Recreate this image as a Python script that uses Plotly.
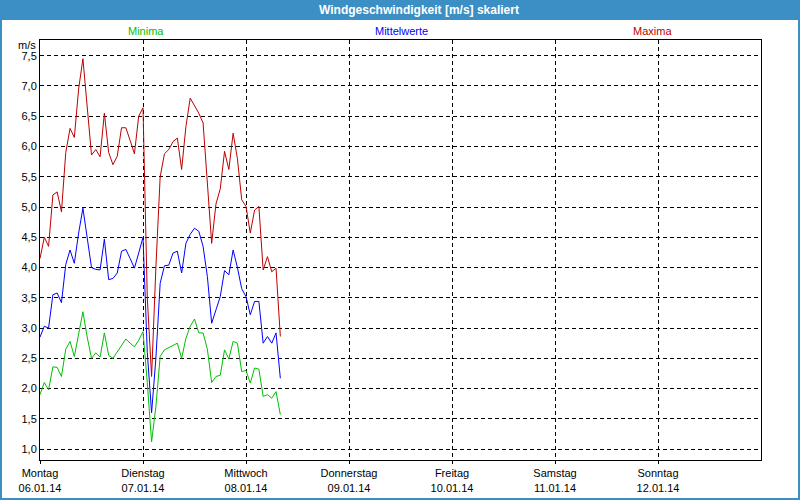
import pandas as pd
import plotly.graph_objects as go

# hourly values starting Monday 06.01.14 00:00
minima = [
    1.90, 2.10, 1.98, 2.36, 2.35, 2.20, 2.65, 2.78, 2.53, 2.90,
    3.27, 2.85, 2.50, 2.59, 2.52, 2.92, 2.55, 2.50, 2.60, 2.70,
    2.82, 2.75, 2.69, 2.80, 2.94, 2.10, 1.12, 1.70, 2.53, 2.64,
    2.68, 2.72, 2.75, 2.50, 2.83, 3.03, 3.15, 2.92, 2.92, 2.65,
    2.10, 2.20, 2.22, 2.64, 2.49, 2.78, 2.75, 2.28, 2.30, 2.09,
    2.34, 2.32, 1.87, 1.90, 1.84, 1.95, 1.57,
]
mittelwerte = [
    2.85, 3.03, 3.00, 3.55, 3.58, 3.42, 4.05, 4.29, 4.07, 4.57,
    4.98, 4.50, 4.00, 3.97, 3.96, 4.47, 3.80, 3.82, 3.91, 4.27,
    4.30, 4.15, 3.99, 4.24, 4.50, 2.60, 1.60, 2.50, 3.74, 4.03,
    4.04, 4.24, 4.27, 3.91, 4.40, 4.55, 4.65, 4.60, 4.35, 3.85,
    3.08, 3.30, 3.52, 3.95, 3.88, 4.29, 4.00, 3.65, 3.52, 3.22,
    3.44, 3.44, 2.75, 2.86, 2.75, 2.92, 2.17,
]
maxima = [
    4.15, 4.50, 4.35, 5.20, 5.25, 4.92, 5.90, 6.30, 6.15, 6.95,
    7.45, 6.70, 5.86, 5.95, 5.83, 6.55, 5.90, 5.70, 5.84, 6.31,
    6.31, 6.10, 5.88, 6.50, 6.64, 3.50, 2.20, 4.00, 5.50, 5.88,
    5.95, 6.08, 6.14, 5.62, 6.33, 6.80, 6.68, 6.55, 6.39, 5.30,
    4.40, 5.05, 5.30, 5.92, 5.62, 6.22, 5.80, 5.12, 5.01, 4.57,
    4.95, 5.01, 3.96, 4.18, 3.93, 3.99, 2.86,
]

day_names = ["Montag", "Dienstag", "Mittwoch", "Donnerstag", "Freitag", "Samstag", "Sonntag"]
day_dates = ["06.01.14", "07.01.14", "08.01.14", "09.01.14", "10.01.14", "11.01.14", "12.01.14"]
y_ticks = [1.0, 1.5, 2.0, 2.5, 3.0, 3.5, 4.0, 4.5, 5.0, 5.5, 6.0, 6.5, 7.0, 7.5]

times = pd.date_range("2014-01-06 00:00", periods=len(maxima), freq="h")
day_ticks = pd.date_range("2014-01-06", periods=7, freq="D")

FONT = "Liberation Sans"
BAR_BLUE = "#3c8fc4"

fig = go.Figure()

for name, values, colour in [
    ("Minima", minima, "#00c000"),
    ("Mittelwerte", mittelwerte, "#0000ff"),
    ("Maxima", maxima, "#c00000"),
]:
    fig.add_trace(
        go.Scatter(
            x=times,
            y=values,
            mode="lines",
            name=name,
            line=dict(color=colour, width=1),
        )
    )

fig.update_layout(
    width=800,
    height=500,
    margin=dict(l=40, r=39, t=40, b=40, autoexpand=False),
    paper_bgcolor="white",
    plot_bgcolor="white",
    showlegend=False,
    separators=",.",
    font=dict(family=FONT, size=11, color="black"),
)

fig.update_xaxes(
    range=["2014-01-06", "2014-01-13"],
    tickvals=day_ticks,
    ticktext=[f"{n}<br>{d}" for n, d in zip(day_names, day_dates)],
    automargin=False,
    showline=True,
    mirror=True,
    linecolor="black",
    linewidth=1,
    showgrid=True,
    gridcolor="black",
    gridwidth=1,
    griddash="4px,3px",
    ticks="outside",
    ticklen=3,
    tickcolor="black",
    zeroline=False,
)

fig.update_yaxes(
    range=[0.82, 7.76],
    tickvals=y_ticks,
    tickformat=".1f",
    automargin=False,
    showline=True,
    mirror=True,
    linecolor="black",
    linewidth=1,
    showgrid=True,
    gridcolor="black",
    gridwidth=1,
    griddash="4px,3px",
    ticks="",
    zeroline=False,
)

# window frame and title bar, in paper units of the plot area
px_x = lambda p: (p - 40) / 721
px_y = lambda p: (460 - p) / 420

fig.add_shape(
    type="rect", xref="paper", yref="paper",
    x0=px_x(0), x1=px_x(800), y0=px_y(0), y1=px_y(20),
    fillcolor=BAR_BLUE, line=dict(width=0), layer="below",
)
fig.add_shape(
    type="rect", xref="paper", yref="paper",
    x0=px_x(1), x1=px_x(799), y0=px_y(1), y1=px_y(499),
    line=dict(color=BAR_BLUE, width=2),
)

fig.add_annotation(
    text="<b>Windgeschwindigkeit [m/s] skaliert</b>",
    xref="paper", yref="paper", x=px_x(419), y=px_y(10),
    xanchor="center", yanchor="middle",
    showarrow=False, font=dict(color="white", size=12, family=FONT),
)

for text, colour, cx in [
    ("Minima", "#00c000", 146),
    ("Mittelwerte", "#0000ff", 401),
    ("Maxima", "#c00000", 652),
]:
    fig.add_annotation(
        text=text, xref="paper", yref="paper",
        x=px_x(cx), y=px_y(31), xanchor="center", yanchor="middle",
        showarrow=False, font=dict(color=colour, size=11, family=FONT),
    )

fig.add_annotation(
    text="m/s", xref="paper", yref="paper",
    x=px_x(27), y=px_y(45), xanchor="center", yanchor="middle",
    showarrow=False, font=dict(size=11, family=FONT),
)

# the page body has a default 8px margin; drop it so the figure sits at 0,0
fig.write_html(
    "out.html",
    config={"displayModeBar": False},
    post_script="document.body.style.margin = '0px';",
)
